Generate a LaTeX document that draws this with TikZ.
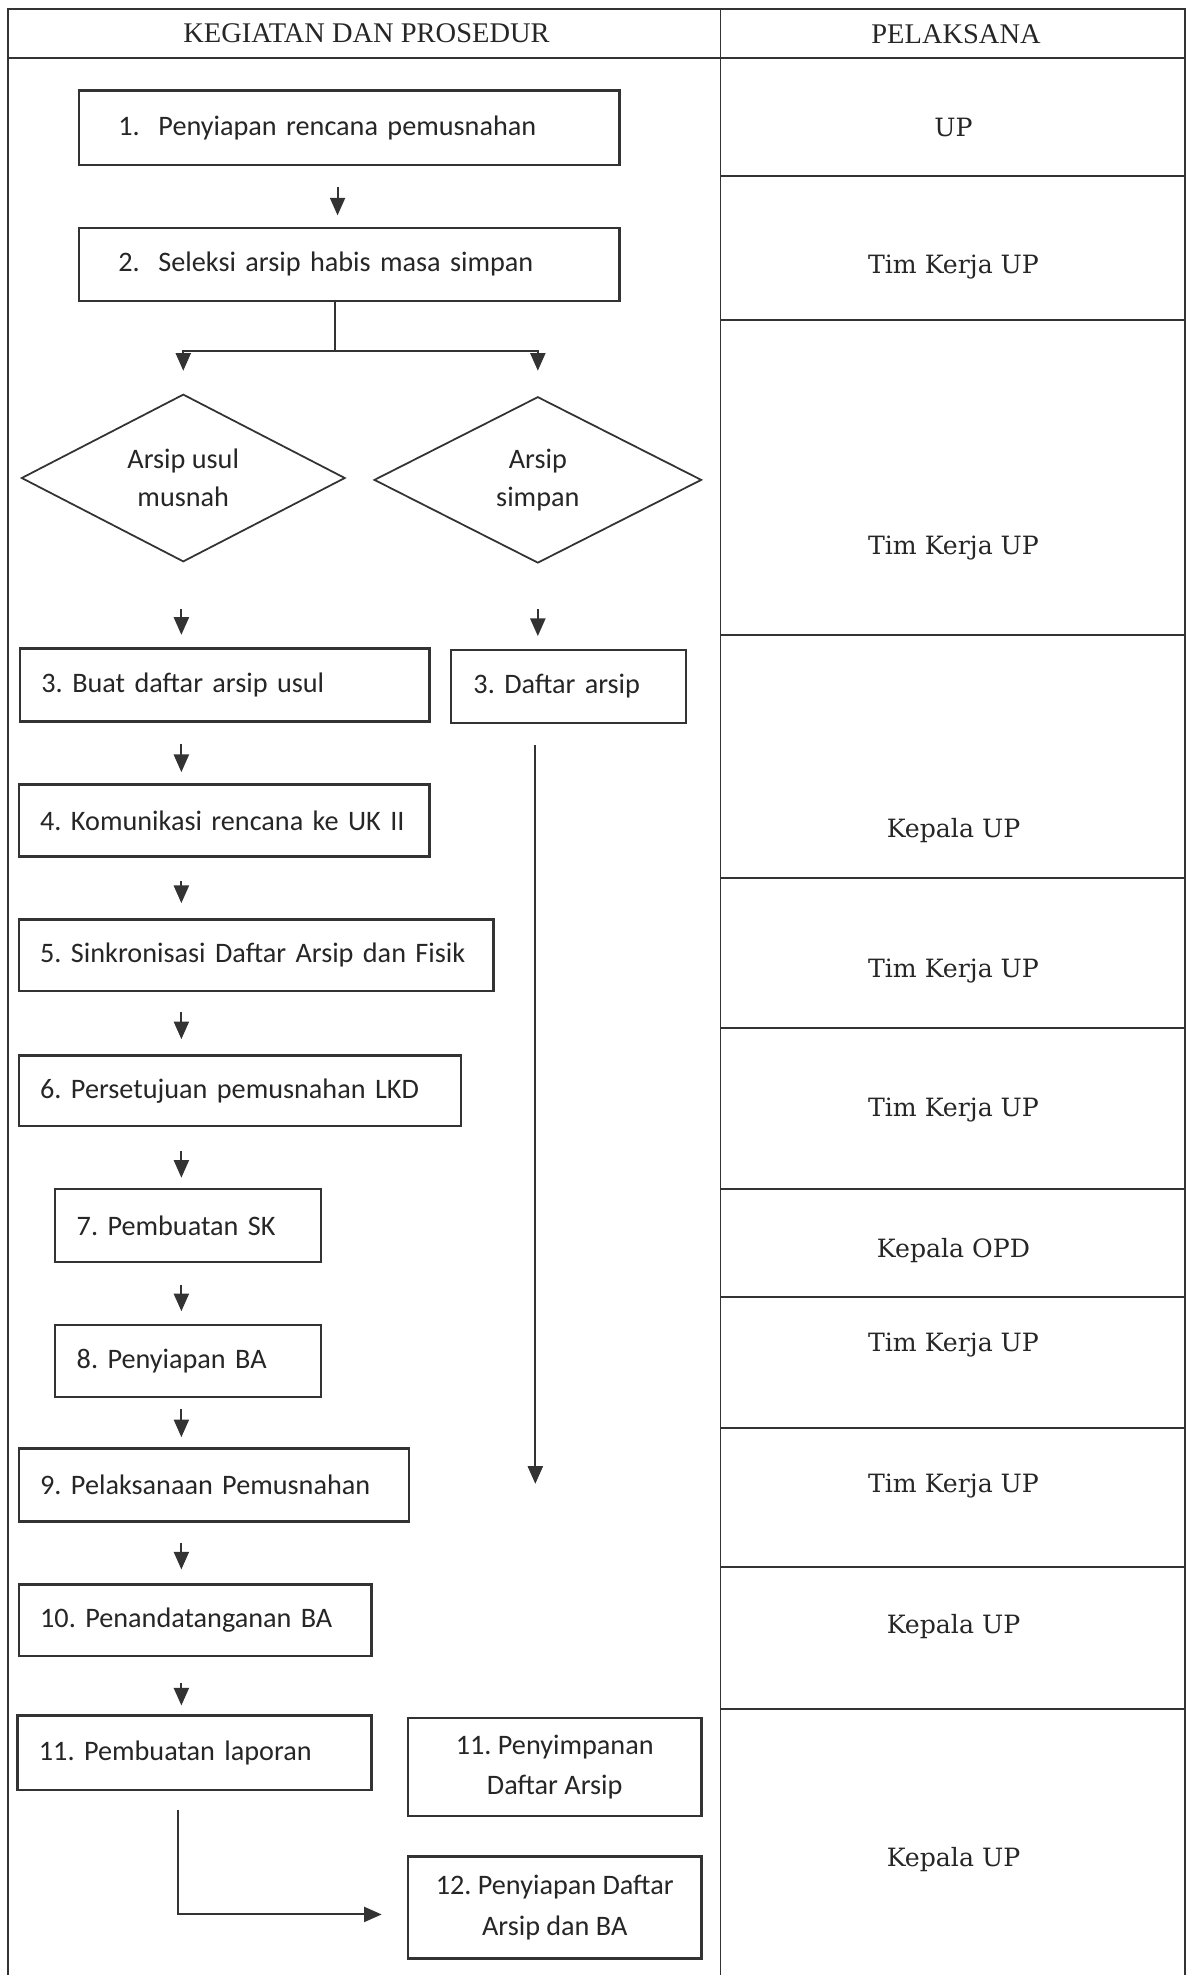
\documentclass[tikz,border=0pt]{standalone}
\usepackage{fontspec}
\setmainfont{Carlito}
\newfontfamily\hdfont{Liberation Serif}
\newfontfamily\rcfont{DejaVu Serif}
\usetikzlibrary{shapes.geometric,arrows.meta}
\frenchspacing
\begin{document}
\frenchspacing
\begin{tikzpicture}[x=0.5pt,y=-0.5pt,
  tline/.style={line width=0.75pt, draw=black!80},
  pbox/.style={draw=black!80, line width=0.9pt, rectangle, anchor=north west,
     inner ysep=0pt, align=left, font=\fontsize{11.2}{15}\selectfont, text=black!85},
  cbox/.style={draw=black!80, line width=0.9pt, rectangle, anchor=north west,
     inner sep=0pt, align=center, font=\fontsize{11.2}{16}\selectfont, text=black!85},
  dia/.style={diamond, draw=black!80, line width=0.7pt, inner sep=0pt, shape aspect=2,
     align=center, font=\fontsize{11.2}{15}\selectfont, text=black!85},
  arr/.style={draw=black!80, line width=0.75pt, -{Triangle[length=7pt,width=6pt]}},
  plain/.style={draw=black!80, line width=0.75pt},
  role/.style={font=\rcfont\fontsize{10}{12}\selectfont, text=black!85},
  head/.style={font=\hdfont\fontsize{11.3}{13}\selectfont, text=black!85}
]
\useasboundingbox (0,0) rectangle (942,1568);
\fill[white] (0,0) rectangle (942,1568);

% table frame
\draw[tline] (6,1568) -- (6,7) -- (941,7) -- (941,1568);
\draw[tline] (572,7) -- (572,1568);
\draw[tline] (6,46) -- (941,46);
\foreach \yy in {140,254,504,697,816,944,1030,1134,1244,1357}
  \draw[tline] (572,\yy) -- (941,\yy);

% headers
\node[head] (h1) at (291,26) {KEGIATAN DAN PROSEDUR};
\node[head] (h2) at (759,27) {PELAKSANA};

% roles
\node[role] (r1) at (757,101) {UP};
\node[role] (r2) at (757,212) {Tim Kerja UP};
\node[role] (r3) at (757,435) {Tim Kerja UP};
\node[role] (r4) at (757,659) {Kepala UP};
\node[role] (r5) at (757,771) {Tim Kerja UP};
\node[role] (r6) at (757,881) {Tim Kerja UP};
\node[role] (r7) at (757,993) {Kepala OPD};
\node[role] (r8) at (757,1068) {Tim Kerja UP};
\node[role] (r9) at (757,1180) {Tim Kerja UP};
\node[role] (r10) at (757,1291) {Kepala UP};
\node[role] (r11) at (757,1476) {Kepala UP};

% boxes
\node[pbox, minimum height=29.5pt, text width=183.5pt, inner xsep=15.5pt] (b1) at (62,71) {\mbox{1.\ \ Penyiapan rencana pemusnahan}};
\node[pbox, minimum height=29pt, text width=183.5pt, inner xsep=15.5pt] (b2) at (62,180) {\mbox{2.\ \ Seleksi arsip habis masa simpan}};

\node[dia, minimum width=128.5pt, minimum height=66.5pt] (d1) at (145.5,379.5) {Arsip usul\\musnah};
\node[dia, minimum width=130pt, minimum height=66pt] (d2) at (427,381) {Arsip\\simpan};

\node[pbox, minimum height=29pt, text width=145.5pt, inner xsep=8.5pt] (b3a) at (15,514) {\mbox{3. Buat daftar arsip usul}};
\node[pbox, minimum height=29pt, text width=75.5pt, inner xsep=9pt] (b3b) at (357,515) {\mbox{3. Daftar arsip}};
\node[pbox, minimum height=28.5pt, text width=146pt, inner xsep=8.5pt] (b4) at (14,622) {\mbox{4. Komunikasi rencana ke UK II}};
\node[pbox, minimum height=28.5pt, text width=171.5pt, inner xsep=8.5pt] (b5) at (14,729) {\mbox{5. Sinkronisasi Daftar Arsip dan Fisik}};
\node[pbox, minimum height=28pt, text width=158.5pt, inner xsep=8.5pt] (b6) at (14,837) {\mbox{6. Persetujuan pemusnahan LKD}};
\node[pbox, minimum height=29pt, text width=88.5pt, inner xsep=8.5pt] (b7) at (43,943) {\mbox{7. Pembuatan SK}};
\node[pbox, minimum height=28.5pt, text width=88.5pt, inner xsep=8.5pt] (b8) at (43,1051) {\mbox{8. Penyiapan BA}};
\node[pbox, minimum height=29pt, text width=138pt, inner xsep=8.5pt] (b9) at (14,1149) {\mbox{9. Pelaksanaan Pemusnahan}};
\node[pbox, minimum height=28.5pt, text width=123pt, inner xsep=8.5pt] (b10) at (14,1257) {\mbox{10. Penandatanganan BA}};
\node[pbox, minimum height=29.5pt, text width=123.5pt, inner xsep=8.5pt] (b11a) at (13,1361) {\mbox{11. Pembuatan laporan}};
\node[cbox, minimum width=116.5pt, minimum height=39pt] (b11b) at (323,1363) {11. Penyimpanan\\Daftar Arsip};
\node[cbox, minimum width=116.5pt, minimum height=40.5pt] (b12) at (323,1473) {12. Penyiapan Daftar\\Arsip dan BA};

% connectors
\coordinate (colx) at (144,0);
\coordinate (topx) at (268,0);
\coordinate (split) at (266,279);
\coordinate (longend) at (425,1178);
\coordinate (repx) at (141,0);

\draw[arr, shorten <=8.5pt, shorten >=4.5pt] (b1.south -| topx) -- (b2.north -| topx);
\draw[plain] (b2.south -| split) -- (split);
\draw[arr, shorten >=9pt] (split) -| (d1.north);
\draw[arr, shorten >=10pt] (split) -| (d2.north);
\draw[arr, shorten <=18.5pt, shorten >=5pt] (d1.south -| colx) -- (b3a.north -| colx);
\draw[arr, shorten <=18pt, shorten >=5pt] (d2.south) -- (d2.south |- b3b.north);
\draw[arr, shorten <=8.5pt] (b3b.south -| longend) -- (longend);
\draw[arr, shorten <=8.5pt, shorten >=4.5pt] (b3a.south -| colx) -- (b4.north -| colx);
\draw[arr, shorten <=9.5pt, shorten >=6pt] (b4.south -| colx) -- (b5.north -| colx);
\draw[arr, shorten <=8pt, shorten >=6pt] (b5.south -| colx) -- (b6.north -| colx);
\draw[arr, shorten <=9.5pt, shorten >=4pt] (b6.south -| colx) -- (b7.north -| colx);
\draw[arr, shorten <=8.5pt, shorten >=5pt] (b7.south -| colx) -- (b8.north -| colx);
\draw[arr, shorten <=4.5pt, shorten >=4pt] (b8.south -| colx) -- (b9.north -| colx);
\draw[arr, shorten <=8pt, shorten >=5.5pt] (b9.south -| colx) -- (b10.north -| colx);
\draw[arr, shorten <=10pt, shorten >=3.5pt] (b10.south -| colx) -- (b11a.north -| colx);
\draw[arr, shorten <=7.5pt, shorten >=10pt] (b11a.south -| repx) |- ([yshift=-2.75pt]b12.west);
\end{tikzpicture}
\end{document}
